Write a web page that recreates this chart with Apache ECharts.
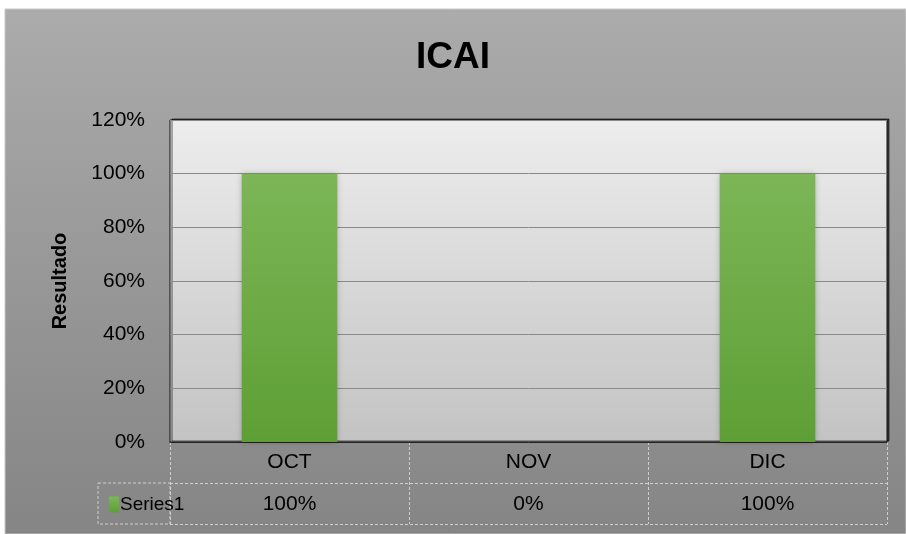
<!DOCTYPE html>
<html>
<head>
<meta charset="utf-8">
<script src="https://cdn.jsdelivr.net/npm/echarts@6/dist/echarts.min.js"></script>
<style>
    html, body { margin: 0; padding: 0; background: #ffffff; }
    #main { width: 906px; height: 534px; }
</style>
</head>
<body>
<div id="main"></div>
<script>
// datos
const titleText = 'ICAI';
const seriesName = 'Series1';
const yAxisName = 'Resultado';
const categories = ['OCT', 'NOV', 'DIC'];
const values = [100, 0, 100];   // porcentaje
const yTicks = [0, 20, 40, 60, 80, 100, 120];

const FONT = "'Liberation Sans', Arial, sans-serif";
const tableLine = '#cfcfcf';

const myChart = echarts.init(document.getElementById('main'));
let option;

option = {
    animation: false,
    textStyle: { fontFamily: FONT },
    title: {
        text: titleText,
        left: 'center',
        top: 34,
        textStyle: { fontSize: 37, fontWeight: 'bold', color: '#000', fontFamily: FONT }
    },
    legend: {
        data: [seriesName],
        left: 104,
        top: 490,
        icon: 'rect',
        itemWidth: 10,
        itemHeight: 16,
        itemGap: 2,
        textStyle: { fontSize: 19, color: '#000', fontFamily: FONT, padding: [0, 0, 0, -4] }
    },
    graphic: [
        {
            // fondo del grafico
            type: 'rect',
            z: -10,
            silent: true,
            shape: { x: 5, y: 9, width: 901, height: 525 },
            style: {
                fill: new echarts.graphic.LinearGradient(0, 0, 0, 1, [
                    { offset: 0, color: '#ababab' },
                    { offset: 1, color: '#858585' }
                ]),
                stroke: '#c8c8c8',
                lineWidth: 1
            }
        },
        {
            // celda de leyenda de la tabla
            type: 'rect',
            silent: true,
            shape: { x: 98, y: 483, width: 72, height: 41 },
            style: { fill: 'none', stroke: tableLine, lineWidth: 1, lineDash: [3, 2] }
        }
    ],
    grid: [
        {
            left: 170,
            right: 19,
            top: 120,
            bottom: 92,
            show: true,
            backgroundColor: new echarts.graphic.LinearGradient(0, 0, 0, 1, [
                { offset: 0, color: '#ededed' },
                { offset: 1, color: '#c3c3c3' }
            ]),
            borderColor: '#111',
            borderWidth: 1,
            shadowColor: 'rgba(0,0,0,0.6)',
            shadowOffsetX: 2,
            shadowOffsetY: -1
        },
        {
            left: 170,
            right: 19,
            top: 442,
            bottom: 10
        }
    ],
    xAxis: [
        {
            type: 'category',
            gridIndex: 0,
            data: categories,
            axisLine: { show: true, lineStyle: { color: '#222', width: 1 } },
            axisTick: { show: false },
            axisLabel: { fontSize: 21, color: '#000', margin: 10, fontFamily: FONT }
        },
        {
            // fila de valores de la tabla
            type: 'category',
            gridIndex: 0,
            position: 'bottom',
            offset: 42,
            data: values.map(v => v + '%'),
            axisLine: { show: false },
            axisTick: { show: false },
            axisLabel: { fontSize: 21, color: '#000', margin: 10, fontFamily: FONT }
        },
        {
            // lineas verticales de la tabla
            type: 'category',
            gridIndex: 1,
            data: categories,
            axisLine: { show: false },
            axisTick: { show: false },
            axisLabel: { show: false },
            splitLine: { show: true, lineStyle: { color: tableLine, width: 1, type: [3, 2] } }
        }
    ],
    yAxis: [
        {
            type: 'value',
            gridIndex: 0,
            min: 0,
            max: 120,
            interval: 20,
            name: yAxisName,
            nameLocation: 'middle',
            nameGap: 100,
            nameTextStyle: { fontSize: 20, fontWeight: 'bold', color: '#000', fontFamily: FONT },
            axisLine: { show: false },
            axisTick: { show: false },
            axisLabel: {
                fontSize: 21,
                color: '#000',
                margin: 25,
                fontFamily: FONT,
                formatter: function (value) {
                    return yTicks.indexOf(value) > -1 ? value + '%' : '';
                }
            },
            splitLine: { show: true, lineStyle: { color: '#8a8a8a', width: 1 } }
        },
        {
            // lineas horizontales de la tabla
            type: 'value',
            gridIndex: 1,
            min: 0,
            max: 2,
            interval: 1,
            axisLine: { show: false },
            axisTick: { show: false },
            axisLabel: { show: false },
            splitLine: { show: true, lineStyle: { color: tableLine, width: 1, type: [3, 2] } }
        }
    ],
    series: [
        {
            name: seriesName,
            type: 'bar',
            xAxisIndex: 0,
            yAxisIndex: 0,
            barWidth: '40%',
            data: values,
            itemStyle: {
                color: new echarts.graphic.LinearGradient(0, 0, 0, 1, [
                    { offset: 0, color: '#7cb657' },
                    { offset: 1, color: '#5e9f35' }
                ]),
                shadowColor: 'rgba(0,0,0,0.25)',
                shadowBlur: 6
            }
        }
    ]
};
option && myChart.setOption(option);
</script>
</body>
</html>
